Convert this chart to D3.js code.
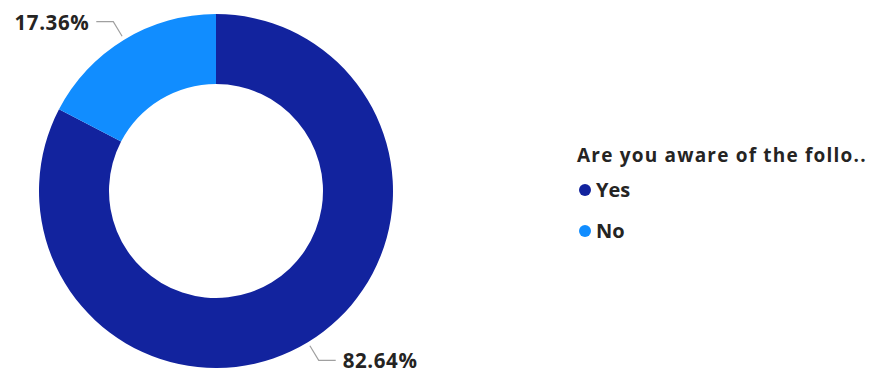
<!DOCTYPE html>
<html>
<head>
<meta charset="utf-8">
<script src="https://cdn.jsdelivr.net/npm/d3@7/dist/d3.min.js"></script>
<style>
  html, body { margin: 0; padding: 0; background: #fff; }
  svg { display: block; }
  text { font-family: "Open Sans", "Noto Sans", sans-serif; }
</style>
</head>
<body>
<svg id="chart" width="875" height="376"></svg>
<script>
const categories = ["Yes", "No"];
const values = [82.64, 17.36];
const colors = ["#12239E", "#118DFF"];
const legendTitle = "Are you aware of the follo..";

const svg = d3.select("#chart");
const cx = 216, cy = 191, outerR = 177, innerR = 107;

const pie = d3.pie().sort(null).value(d => d.value);
const data = categories.map((c, i) => ({ name: c, value: values[i], color: colors[i] }));
const arcs = pie(data);
const arc = d3.arc().innerRadius(innerR).outerRadius(outerR);

const g = svg.append("g").attr("transform", `translate(${cx},${cy})`);
g.selectAll("path.slice").data(arcs).join("path")
  .attr("class", "slice")
  .attr("d", arc)
  .attr("fill", d => d.data.color);

// leader lines and labels
const fmt = v => v.toFixed(2) + "%";
arcs.forEach(d => {
  const a = (d.startAngle + d.endAngle) / 2;
  const p = r => [r * Math.sin(a), -r * Math.cos(a)];
  const p1 = p(outerR + 4);
  const p2 = p(outerR + 21);
  const dir = Math.sin(a) >= 0 ? 1 : -1;
  const p3 = [p2[0] + dir * 17, p2[1]];
  g.append("polyline")
    .attr("points", [p1, p2, p3].map(q => q.join(",")).join(" "))
    .attr("fill", "none")
    .attr("stroke", "#a0a0a0")
    .attr("stroke-width", 1.2);
  g.append("text")
    .attr("x", p3[0] + dir * 7)
    .attr("y", p3[1] + 1)
    .attr("dy", "0.35em")
    .attr("text-anchor", dir > 0 ? "start" : "end")
    .attr("font-size", 20.5)
    .attr("font-weight", 700)
    .attr("letter-spacing", 0.6)
    .attr("fill", "#252423")
    .text(fmt(d.data.value));
});

// legend
const lg = svg.append("g").attr("transform", "translate(577,0)");
lg.append("text")
  .attr("x", 0).attr("y", 162)
  .attr("font-size", 19)
  .attr("font-weight", 700)
  .attr("letter-spacing", 1.2)
  .attr("fill", "#252423")
  .text(legendTitle);
const ly = [190, 231];
categories.forEach((c, i) => {
  lg.append("circle").attr("cx", 8).attr("cy", ly[i]).attr("r", 6).attr("fill", colors[i]);
  lg.append("text")
    .attr("x", 19).attr("y", ly[i]).attr("dy", "0.36em")
    .attr("font-size", 20)
    .attr("font-weight", 700)
    .attr("fill", "#252423")
    .text(c);
});
</script>
</body>
</html>
